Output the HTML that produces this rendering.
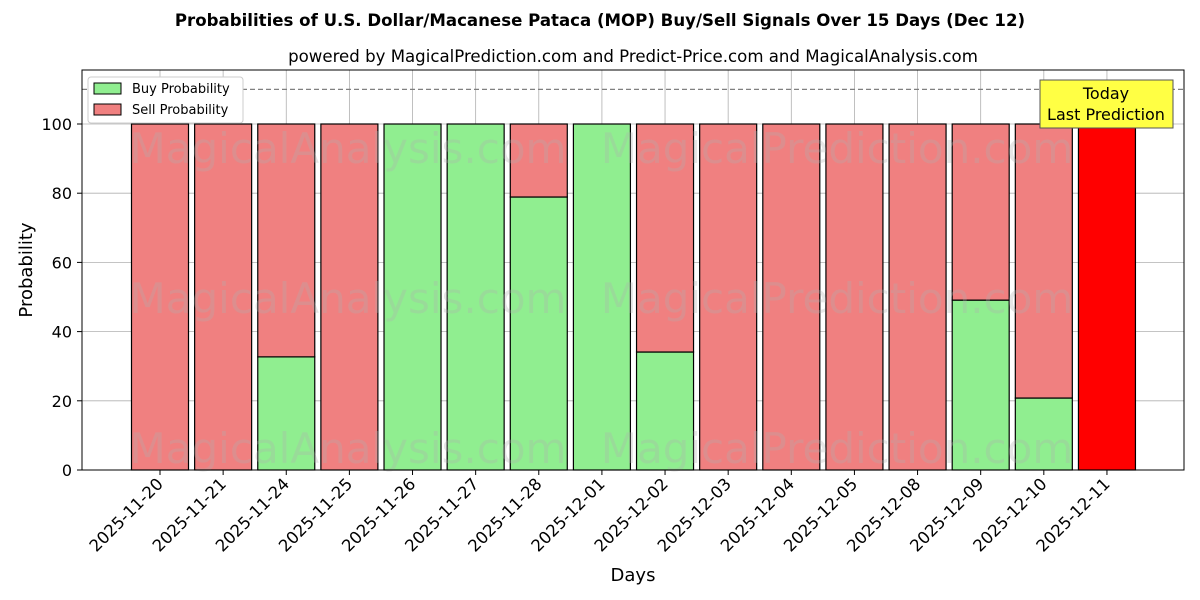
<!DOCTYPE html>
<html><head><meta charset="utf-8"><style>
body{margin:0;background:#fff;}
svg{display:block;font-family:"DejaVu Sans","Liberation Sans",sans-serif;}
</style></head><body>
<svg id="chart" width="1200" height="600" viewBox="0 0 1200 600">
<text x="600" y="26" text-anchor="middle" font-size="16.6" font-weight="bold">Probabilities of U.S. Dollar/Macanese Pataca (MOP) Buy/Sell Signals Over 15 Days (Dec 12)</text>
<text x="633" y="62" text-anchor="middle" font-size="16.6">powered by MagicalPrediction.com and Predict-Price.com and MagicalAnalysis.com</text>
<g id="grid"></g>
<g id="bars"></g>
<g id="wm" fill="#b0b0b0" opacity="0.3" font-size="42">
<text x="348" y="163" text-anchor="middle">MagicalAnalysis.com</text>
<text x="837" y="163" text-anchor="middle">MagicalPrediction.com</text>
<text x="348" y="313" text-anchor="middle">MagicalAnalysis.com</text>
<text x="837" y="313" text-anchor="middle">MagicalPrediction.com</text>
<text x="348" y="463" text-anchor="middle">MagicalAnalysis.com</text>
<text x="837" y="463" text-anchor="middle">MagicalPrediction.com</text>
</g>
<line x1="82" x2="1184" y1="89.4" y2="89.4" stroke="#808080" stroke-dasharray="5,3" stroke-width="1.2"/>
<rect x="82" y="70" width="1102" height="400" fill="none" stroke="#000" stroke-width="1"/>
<g id="axes"></g>
<text x="32" y="270" text-anchor="middle" font-size="18" transform="rotate(-90 32 270)">Probability</text>
<text x="633" y="581" text-anchor="middle" font-size="18">Days</text>
<g>
<rect x="88" y="77" width="155" height="46" fill="#fff" stroke="#ccc" rx="3"/>
<rect x="94" y="83" width="27" height="11" fill="#90ee90" stroke="#000"/>
<text x="132" y="93" font-size="13">Buy Probability</text>
<rect x="94" y="104" width="27" height="11" fill="#f08080" stroke="#000"/>
<text x="132" y="114" font-size="13">Sell Probability</text>
</g>
<g>
<rect x="1040" y="80" width="133" height="48" fill="#ffff44" stroke="#555"/>
<text x="1106" y="99" text-anchor="middle" font-size="16">Today</text>
<text x="1106" y="120" text-anchor="middle" font-size="16">Last Prediction</text>
</g>
</svg>
<script>
const categories=["2025-11-20","2025-11-21","2025-11-24","2025-11-25","2025-11-26","2025-11-27","2025-11-28","2025-12-01","2025-12-02","2025-12-03","2025-12-04","2025-12-05","2025-12-08","2025-12-09","2025-12-10","2025-12-11"];
const buyValues=[0,0,32.7,0,100,100,78.9,100,34.1,0,0,0,0,49.1,20.8,0];
const sellValues=[100,100,67.3,100,0,0,21.1,0,65.9,100,100,100,100,50.9,79.2,100];
const yTicks=[0,20,40,60,80,100];
const NS="http://www.w3.org/2000/svg";
const xS=i=>160+i*63.13;
const yS=v=>470-v*3.46;
const bw=57;
function mk(tag,attrs,parent){const e=document.createElementNS(NS,tag);for(const k in attrs)e.setAttribute(k,attrs[k]);parent.appendChild(e);return e;}
const grid=document.getElementById('grid'),bars=document.getElementById('bars'),axes=document.getElementById('axes');
yTicks.forEach(t=>{
  const l=mk('line',{x1:82,x2:1184,y1:yS(t),y2:yS(t),stroke:'#b0b0b0','stroke-width':0.8},grid);
  
  
  mk('line',{x1:77,x2:82,y1:yS(t),y2:yS(t),stroke:'#000'},axes);
  const tx=mk('text',{x:72,y:yS(t)+6,'text-anchor':'end','font-size':16},axes);
  tx.textContent=t;
  
  
});
categories.forEach((c,i)=>{
  const x=xS(i);
  const g=mk('line',{x1:x,x2:x,y1:70,y2:470,stroke:'#b0b0b0','stroke-width':0.8},grid);
  
  
  const last=i===categories.length-1;
  if(buyValues[i]>0){
    const r=mk('rect',{x:x-bw/2,y:yS(buyValues[i]),width:bw,height:yS(0)-yS(buyValues[i]),fill:'#90ee90',stroke:'#000','stroke-width':1.2},bars);
    
    
  }
  if(sellValues[i]>0){
    const top=buyValues[i]+sellValues[i];
    const r=mk('rect',{x:x-bw/2,y:yS(top),width:bw,height:yS(buyValues[i])-yS(top),fill:last?'#ff0000':'#f08080',stroke:'#000','stroke-width':1.2},bars);
    
    
  }
  mk('line',{x1:x,x2:x,y1:470,y2:475,stroke:'#000'},axes);
  const tx=mk('text',{x:x+4,y:485,'text-anchor':'end','font-size':16.5,transform:`rotate(-45 ${x+4} 485)`},axes);
  tx.textContent=c;
  
  
});
</script>
</body></html>
